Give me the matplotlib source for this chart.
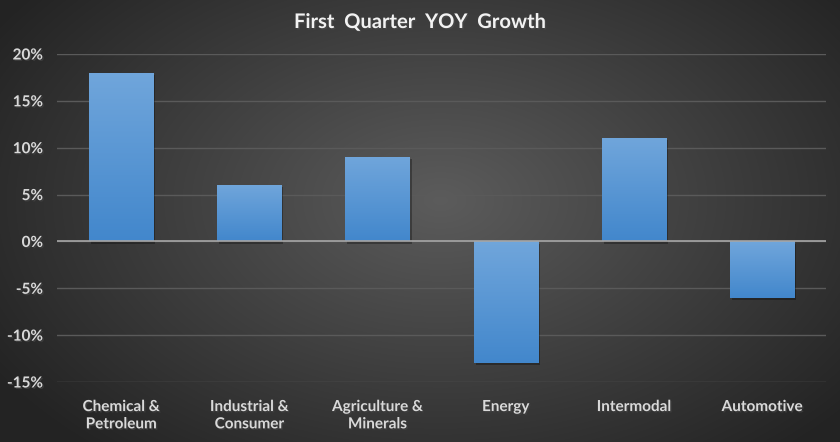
"""
First quarter YOY growth by business segment - dark Excel-style bar chart.
"""
import matplotlib
matplotlib.use("Agg")
import matplotlib.pyplot as plt
import matplotlib.patheffects as pe
import numpy as np

categories = ["Chemical &\nPetroleum", "Industrial &\nConsumer", "Agriculture &\nMinerals",
              "Energy", "Intermodal", "Automotive"]
growth = [18, 6, 9, -13, 11, -6]
yticks = [-15, -10, -5, 0, 5, 10, 15, 20]

TEXT = "#d9d9d9"
FONT = ["Lato", "DejaVu Sans"]
shadow = [pe.withSimplePatchShadow(offset=(1.5, -1.5), shadow_rgbFace="black", alpha=0.3)]

fig = plt.figure(figsize=(8.4, 4.42), dpi=100)

# radial background
bg = fig.add_axes([0, 0, 1, 1])
yy, xx = np.mgrid[0:442, 0:840]
r = np.sqrt(((xx - 440) / 520.0) ** 2 + ((yy - 200) / 330.0) ** 2)
shade = np.clip(0.36 - 0.22 * r, 0.14, 0.36)
bg.imshow(np.dstack([shade, shade, shade]), aspect="auto", extent=[0, 1, 0, 1])
bg.set_axis_off()

ax = fig.add_axes([57 / 840, 1 - 382 / 442, (826 - 57) / 840, (382 - 54) / 442])
ax.set_facecolor("none")
x = np.arange(len(categories))
bars = ax.bar(x, growth, width=0.5, color="#5b9bd5", zorder=3)

grad = np.linspace(0, 1, 100)
top = np.array([0.44, 0.65, 0.86])
bot = np.array([0.26, 0.53, 0.80])
grad_img = (top + (bot - top) * grad[:, None]).reshape(100, 1, 3)
for b, v in zip(bars, growth):
    b.set_path_effects(shadow)
    x0, w = b.get_x(), b.get_width()
    lo, hi = min(0, v), max(0, v)
    im = ax.imshow(grad_img, extent=[x0, x0 + w, lo, hi], aspect="auto", zorder=4)
    im.set_clip_path(b)

ax.set_xlim(-0.5, len(categories) - 0.5)
ax.set_ylim(-15, 20)
ax.set_yticks(yticks)
ax.set_yticklabels([f"{t}%" for t in yticks])
ax.set_xticks(x)
ax.set_xticklabels(categories, linespacing=1.3)
ax.grid(axis="y", color="#5a5a5a", linewidth=1, zorder=0)
ax.axhline(0, color="#a6a6a6", linewidth=1.2, zorder=5)
ax.tick_params(length=0, colors=TEXT, labelsize=11)
ax.tick_params(axis="x", pad=13)
ax.tick_params(axis="y", pad=10)
for lbl in ax.get_xticklabels() + ax.get_yticklabels():
    lbl.set_fontfamily(FONT)
    lbl.set_fontweight("bold")
    lbl.set_path_effects([pe.withSimplePatchShadow(offset=(1, -1), alpha=0.8)])
for spine in ax.spines.values():
    spine.set_visible(False)

fig.text(0.5, 1 - 22 / 442, "First  Quarter  YOY  Growth", ha="center", va="center",
         color="#f2f2f2", fontsize=14.5, fontweight="bold", family=FONT,
         path_effects=[pe.withSimplePatchShadow(offset=(1, -1), alpha=0.8)])

fig.savefig("out.png", dpi=100)
